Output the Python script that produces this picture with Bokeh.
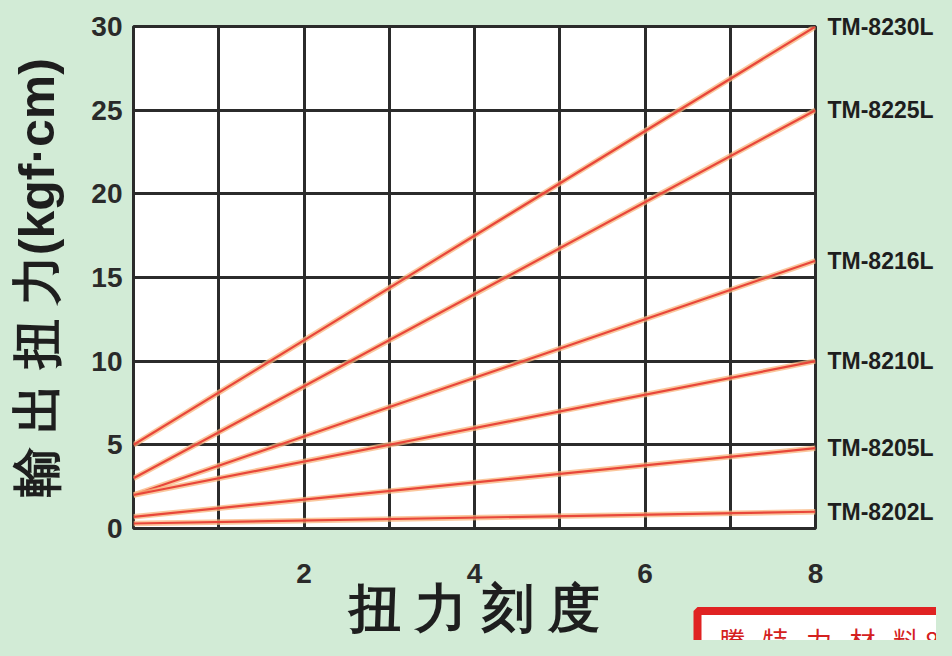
from bokeh.plotting import figure
from bokeh.models import (Title, LinearAxis, Range1d, FixedTicker, GlobalInlineStyleSheet)
from bokeh.embed import file_html
from bokeh.resources import INLINE

# ---- data ----
models = ["TM-8230L", "TM-8225L", "TM-8216L", "TM-8210L", "TM-8205L", "TM-8202L"]
scale_ends = [0, 8]                       # torque-scale setting at each end of a line
start_values = [5, 3, 2, 2, 0.7, 0.3]     # output torque at scale 0 (kgf·cm)
end_values = [30, 25, 16, 10, 4.8, 1.0]   # output torque at scale 8 (kgf·cm)
x_ticks = [2, 4, 6, 8]
y_ticks = [0, 5, 10, 15, 20, 25, 30]
x_grid = [0, 1, 2, 3, 4, 5, 6, 7, 8]
x_title = "扭 力 刻 度"
y_title = "輸 出 扭 力(kgf·cm)"
GAP = "\u00a0\u00a0\u00a0"
stamp = "\u00a0\u00a0" + GAP.join(["騰", "特", "力", "材", "料"]) + " 886-3-5396727"

BG = "#d2ebd6"
GRID = "#2b2b2b"
TXT = "#2a2a2a"
TITLE = "#1e1e1e"
LAT = "Liberation Sans"
CJK = "Noto Sans CJK TC"

p = figure(width=936, height=640, x_range=Range1d(0, 8), y_range=Range1d(0, 30),
           output_backend="svg", toolbar_location=None,
           min_border_left=133, min_border_right=120, min_border_top=26, min_border_bottom=112)
p.stylesheets = [GlobalInlineStyleSheet(css="html, body { background-color: %s; }" % BG)]
p.background_fill_color = "white"
p.border_fill_color = BG
p.outline_line_color = GRID
p.outline_line_width = 3
p.outline_line_alpha = 1

p.xgrid.ticker = FixedTicker(ticks=x_grid)
p.ygrid.ticker = FixedTicker(ticks=y_ticks)
for g in (p.xgrid, p.ygrid):
    g.grid_line_color = GRID
    g.grid_line_width = 3
    g.grid_line_alpha = 1

# model names on a right-hand axis, at each line's end value
right = LinearAxis(ticker=FixedTicker(ticks=end_values),
                   major_label_overrides={v: m for v, m in zip(end_values, models)})
p.add_layout(right, "right")

p.xaxis.ticker = FixedTicker(ticks=x_ticks)
p.yaxis[0].ticker = FixedTicker(ticks=y_ticks)
for ax in [p.xaxis[0], p.yaxis[0], right]:
    ax.axis_line_color = None
    ax.major_tick_line_color = None
    ax.minor_tick_line_color = None
    ax.major_tick_out = 0
    ax.major_tick_in = 0
    ax.major_label_text_font = LAT
    ax.major_label_text_font_style = "bold"
    ax.major_label_text_color = TXT
    ax.major_label_text_font_size = "28px"

p.xaxis.major_label_standoff = 35
p.yaxis[0].major_label_standoff = 11
right.major_label_standoff = 12
right.major_label_text_font_size = "23px"
right.major_label_text_color = "#1e1e1e"

# axis titles
p.xaxis.axis_label = x_title
p.xaxis.axis_label_text_font = LAT
p.xaxis.axis_label_text_font_style = "bold"
p.xaxis.axis_label_text_font_size = "52px"
p.xaxis.axis_label_text_color = TITLE
p.xaxis.axis_label_standoff = -7

p.yaxis[0].axis_label = y_title
p.yaxis[0].axis_label_text_font = LAT
p.yaxis[0].axis_label_text_font_style = "bold"
p.yaxis[0].axis_label_text_font_size = "50px"
p.yaxis[0].axis_label_text_color = TITLE
p.yaxis[0].axis_label_standoff = 23

# ---- lines ----
for s, e in zip(start_values, end_values):
    p.line(scale_ends, [s, e], line_color="#f8b47c", line_width=5.5, line_alpha=0.75)
    p.line(scale_ends, [s, e], line_color="#e8463a", line_width=2.2)

# ---- red stamp box at the bottom right (cut off by the picture's edge) ----
try:
    t = Title(text=stamp, align="left", offset=564, vertical_align="middle", standoff=-77,
              text_font=CJK, text_font_size="26px", text_font_style="normal",
              text_color="#d42020", border_line_color="#e02222", border_line_width=8,
              background_fill_color="white", padding=10)
    p.add_layout(t, "below")
except Exception:
    pass

open("out.html", "w").write(file_html(p, INLINE))
